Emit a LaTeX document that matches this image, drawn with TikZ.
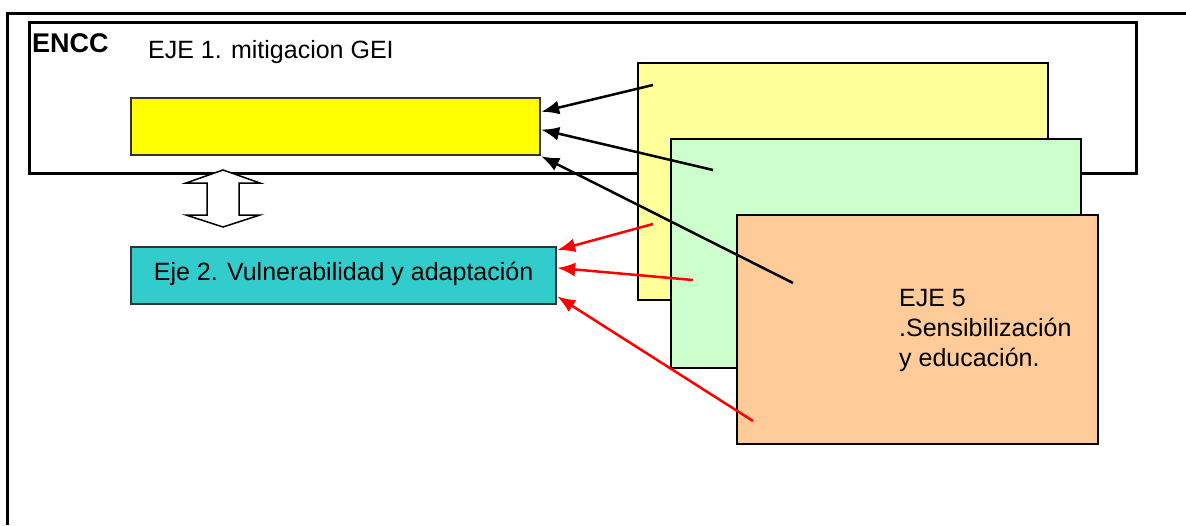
\documentclass[tikz,border=0pt]{standalone}
\usepackage{fontspec}
\setmainfont{Liberation Sans}
\usetikzlibrary{arrows.meta,calc,positioning}

\definecolor{ejeamarillo}{HTML}{FFFF00}
\definecolor{ejecian}{HTML}{33CCCC}
\definecolor{hojaamarilla}{HTML}{FFFF99}
\definecolor{hojaverde}{HTML}{CCFFCC}
\definecolor{hojanaranja}{HTML}{FFCC99}

\begin{document}
\begin{tikzpicture}[x=1pt,y=-1pt,
	caja/.style={draw,line width=2.2pt,inner sep=0pt,anchor=north west},
	texto/.style={inner sep=0pt,anchor=base west,font=\fontsize{25}{30}\selectfont},
	flecha/.style={line width=2.5pt,-{Latex[length=18pt,width=14pt]}}]
	\useasboundingbox (0,0) rectangle (1186,525);
	\draw[line width=3pt] (7,525) -- (7,13) -- (1186,13);
	\node[caja,line width=3pt,minimum width=1107pt,minimum height=151pt] (encc) at (28,21) {};
	\node[texto,font=\fontsize{27}{30}\selectfont\bfseries] (titulo) at (32,52) {ENCC};
	\node[texto] (ejeuno) at (148,58) {EJE 1. mitigacion GEI};
	\node[caja,draw=black!80,fill=ejeamarillo,minimum width=409pt,minimum height=57pt] (mit) at (130,97) {};
	% flecha doble hueca
	\draw[line width=1.5pt,fill=white] (223,170) -- (260,183) -- (239,183) -- (239,215) -- (260,215)
		-- (223,227) -- (186,215) -- (207,215) -- (207,183) -- (186,183) -- cycle;
	\node[caja,draw=black!80,fill=ejecian,minimum width=425pt,minimum height=57pt,
		font=\fontsize{25}{30}\selectfont,text depth=8pt] (vuln) at (130,246) {Eje 2. Vulnerabilidad y adaptación\hspace{4pt}};
	% hojas
	\node[caja,fill=hojaamarilla,minimum width=410pt,minimum height=237pt] (hojaA) at (637,62) {};
	\node[caja,fill=hojaverde,minimum width=410pt,minimum height=229pt] (hojaB) at (670,138) {};
	\node[caja,fill=hojanaranja,minimum width=361pt,minimum height=229pt] (hojaC) at (736,214) {};
	\node[texto,align=left,anchor=north west] (sens) at (899,289) {EJE 5\\.Sensibilización\\y educación.};
	% flechas
	\coordinate (pA) at (653,85);
	\coordinate (pB) at (713,170);
	\coordinate (pC) at (793,283);
	\coordinate (rA) at (653,224);
	\coordinate (rB) at (693,280);
	\coordinate (rC) at (753,421);
	\draw[flecha] (pA) -- ($(mit.north east)!0.25!(mit.south east)$);
	\draw[flecha] (pB) -- ($(mit.north east)!0.55!(mit.south east)$);
	\draw[flecha] (pC) -- (mit.south east);
	\draw[flecha,red] (rA) -- ($(vuln.north east)!0.07!(vuln.south east)$);
	\draw[flecha,red] (rB) -- ($(vuln.north east)!0.37!(vuln.south east)$);
	\draw[flecha,red] (rC) -- ($(vuln.north east)!0.85!(vuln.south east)$);
\end{tikzpicture}
\end{document}
